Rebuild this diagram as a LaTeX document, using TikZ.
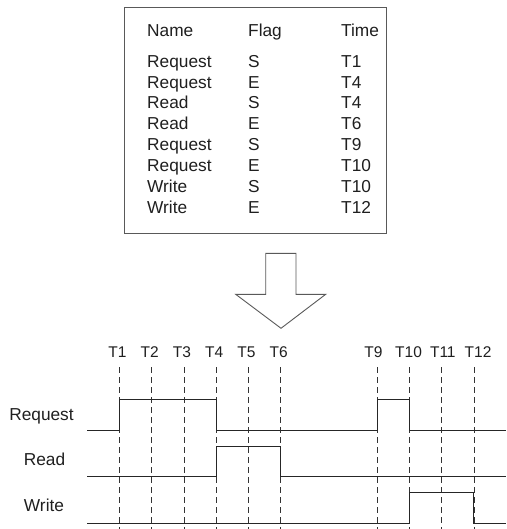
\documentclass[tikz,border=0pt]{standalone}
\usepackage{fontspec}
\setmainfont{Liberation Sans}
\begin{document}
\begin{tikzpicture}[x=1pt,y=-1pt,
  txt/.style={inner sep=0pt,font=\fontsize{17.3}{20}\selectfont,text=black!88},
  cell/.style={txt,anchor=base west},
  tlab/.style={inner sep=0pt,anchor=base,font=\fontsize{15.5}{18}\selectfont,text=black!88},
  sig/.style={draw=black!85,line width=0.9pt},
  guide/.style={draw=black!80,line width=0.7pt,dash pattern=on 6pt off 4pt},
  boxline/.style={draw=black!65,line width=1pt}]
\useasboundingbox (0,0) rectangle (506,529);
% table box
\draw[boxline] (124,7.5) rectangle (386,233.3);
\node[cell] (h1) at (147,36.7) {Name};
\node[cell] (h2) at (248,36.7) {Flag};
\node[cell] (h3) at (341,36.7) {Time};
\foreach \n/\f/\t [count=\i] in {Request/S/T1,Request/E/T4,Read/S/T4,Read/E/T6,Request/S/T9,Request/E/T10,Write/S/T10,Write/E/T12}{
  \pgfmathsetmacro{\yy}{67.3+(\i-1)*20.85}
  \node[cell] (n\i) at (147,\yy) {\n};
  \node[cell] (f\i) at (248,\yy) {\f};
  \node[cell] (t\i) at (341,\yy) {\t};
}
% big arrow
\draw[boxline,line width=0.9pt,fill=white] (265.7,253.3) -- (296,253.3) -- (296,294.3) -- (325.7,294.3) -- (281,328.3) -- (235.7,294.3) -- (265.7,294.3) -- cycle;
% time guides
\foreach \k/\lab/\dx in {1/T1/-2,2/T2/-2,3/T3/-2,4/T4/-2,5/T5/-2,6/T6/-2,9/T9/-4,10/T10/-1,11/T11/1,12/T12/4}{
  \pgfmathsetmacro{\xx}{119.4+(\k-1)*32.24}
  \node[tlab] (lab\k) at (\xx+\dx,357.3) {\lab};
  \coordinate (top\k) at (\xx,367);
  \coordinate (bot\k) at (\xx,529);
  \draw[guide] (top\k) -- (bot\k);
}
% signal labels
\node[txt,anchor=base] (req) at (41.5,420.6) {Request};
\node[txt,anchor=base] (rd) at (44.5,465.2) {Read};
\node[txt,anchor=base] (wr) at (44,511.9) {Write};
% signals
\draw[sig] (87.3,430.3) -- (119.4,430.3) -- (119.4,399.3) -- (216.1,399.3) -- (216.1,430.3) -- (377.1,430.3) -- (377.1,399.3) -- (409.3,399.3) -- (409.3,430.3) -- (506,430.3);
\draw[sig] (87.3,476.7) -- (216.1,476.7) -- (216.1,446) -- (280.6,446) -- (280.6,476.7) -- (506,476.7);
\draw[sig] (87.3,523.3) -- (409.3,523.3) -- (409.3,492.3) -- (473.8,492.3) -- (473.8,523.3) -- (506,523.3);
\end{tikzpicture}
\end{document}
